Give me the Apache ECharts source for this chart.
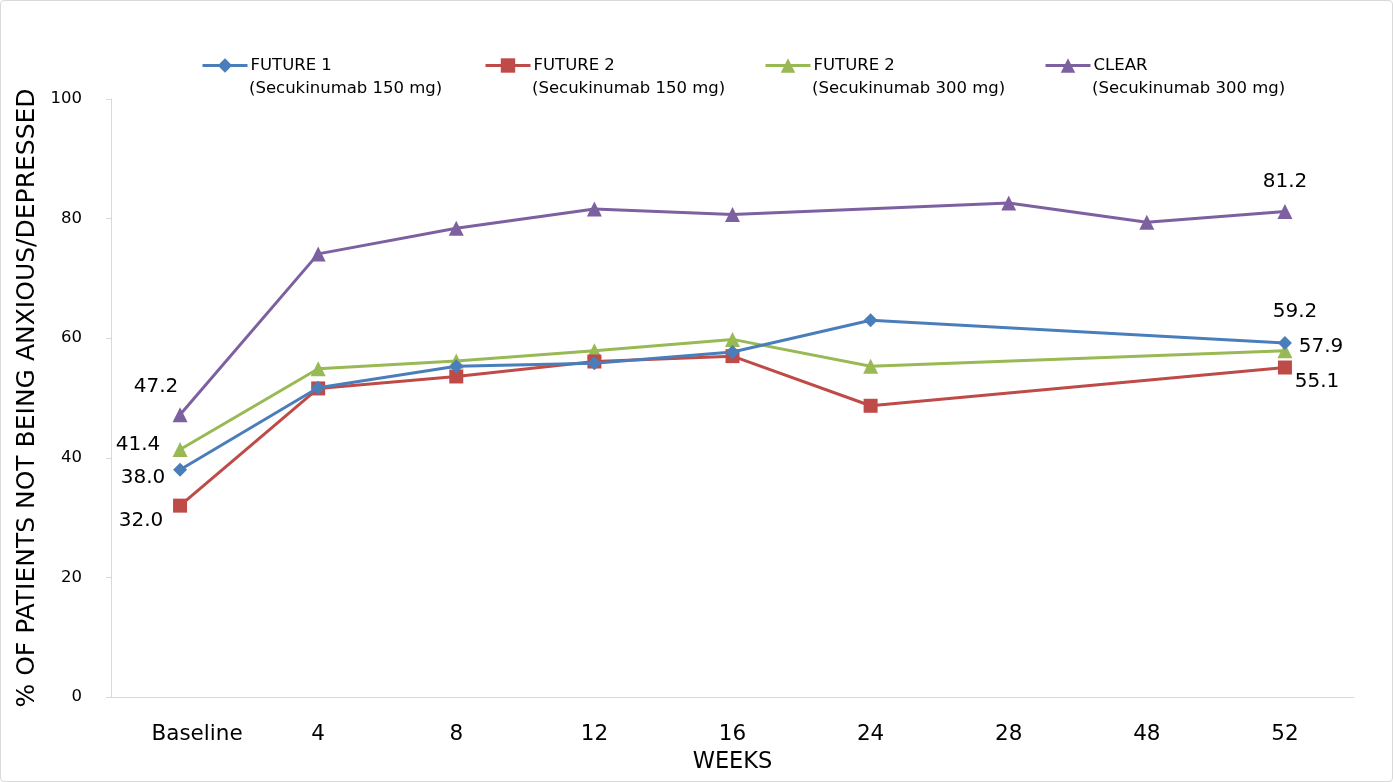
<!DOCTYPE html>
<html><head><meta charset="utf-8">
<script src="https://cdn.jsdelivr.net/npm/echarts@6/dist/echarts.min.js"></script>
<style>
html,body{margin:0;padding:0;background:#fff;}
#c{position:absolute;left:0;top:0;width:1391px;height:780px;border:1px solid #d9d9d9;border-radius:4px;}
</style></head><body>
<div id="c"></div>
<script>
const categories = ['Baseline','4','8','12','16','24','28','48','52'];
const future1_150 = [38.0, 51.7, 55.3, 55.8, 57.7, 63.0, null, null, 59.2];
const future2_150 = [32.0, 51.6, 53.6, 56.1, 57.0, 48.7, null, null, 55.1];
const future2_300 = [41.4, 54.9, 56.2, 57.9, 59.8, 55.3, null, null, 57.9];
const clear_300   = [47.2, 74.1, 78.4, 81.6, 80.7, null, 82.6, 79.4, 81.2];
const legendTitles = ['FUTURE 1','FUTURE 2','FUTURE 2','CLEAR'];
const legendSubtitles = ['(Secukinumab 150 mg)','(Secukinumab 150 mg)','(Secukinumab 300 mg)','(Secukinumab 300 mg)'];
const yTicks = [0,20,40,60,80,100];

const FONT = 'DejaVu Sans';
const colors = ['#4A7EBB','#BE4B48','#98B954','#7D60A0'];
const symbols = ['diamond','rect','triangle','triangle'];
const symbolSizes = [14,14,15,15];
const seriesData = [future1_150, future2_150, future2_300, clear_300];
const ids = ['f1','f2a','f2b','clear'];
// label offsets for first and last points (style only)
const labelOffsets = [
  {0:[-37,8], 8:[10,-31]},
  {0:[-39,15], 8:[32,14]},
  {0:[-42,-5], 8:[36,-4]},
  {0:[-24,-28], 8:[0,-30]}
];

const series = seriesData.map((arr, s) => ({
  name: ids[s],
  type: 'line',
  data: arr.map((v, i) => {
    const o = {value: v};
    if (labelOffsets[s][i] && v != null) {
      o.label = {show: true, position: 'inside', offset: labelOffsets[s][i],
        formatter: p => p.value.toFixed(1), fontSize: 20, fontFamily: FONT, color: '#000'};
    }
    return o;
  }),
  connectNulls: true,
  symbol: symbols[s],
  symbolSize: symbolSizes[s],
  showAllSymbol: true,
  itemStyle: {color: colors[s]},
  lineStyle: {color: colors[s], width: 3},
  label: {show: false},
  z: 2 + (3 - s)
}));

const legendX = [200, 483, 763, 1043];
const legends = ids.map((id, k) => ({
  data: [id], left: legendX[k], top: 56, padding: 0,
  itemWidth: 45, itemHeight: 18, itemGap: 0,
  lineStyle: {width: 3},
  formatter: () => legendTitles[k],
  textStyle: {fontSize: 16.5, fontFamily: FONT, color: '#000', padding: [0,0,0,-2]},
  selectedMode: false
}));

const graphics = legendSubtitles.map((t, k) => ({
  type: 'text', left: legendX[k] + 48, top: 79,
  style: {text: t, font: '16.5px "' + FONT + '"', fill: '#000'}
}));

const chart = echarts.init(document.getElementById('c'));
chart.setOption({
  animation: false,
  legend: legends,
  graphic: graphics,
  grid: {left: 110, right: 38, top: 98, bottom: 84, outerBoundsMode: 'none', containLabel: false},
  xAxis: {
    type: 'category', data: categories, boundaryGap: true,
    name: 'WEEKS', nameLocation: 'middle', nameGap: 54,
    nameTextStyle: {fontSize: 22.5, fontFamily: FONT, color: '#000'},
    axisLine: {lineStyle: {color: '#d9d9d9', width: 1}},
    axisTick: {show: false},
    axisLabel: {interval: 0, hideOverlap: false, fontSize: 21.5, fontFamily: FONT, color: '#000', margin: 26,
      formatter: (v, i) => i === 0 ? '{b|' + v + '}' : v,
      rich: {b: {fontSize: 21.5, fontFamily: FONT, color: '#000', padding: [0,0,0,34]}}}
  },
  yAxis: {
    type: 'value', min: yTicks[0], max: yTicks[yTicks.length-1], interval: 20,
    name: '% OF PATIENTS NOT BEING ANXIOUS/DEPRESSED', nameLocation: 'middle', nameGap: 68,
    nameTextStyle: {fontSize: 25, fontFamily: FONT, color: '#000'},
    axisLine: {show: true, lineStyle: {color: '#d9d9d9', width: 1}},
    axisTick: {show: true, length: 5, lineStyle: {color: '#d9d9d9'}},
    splitLine: {show: false},
    axisLabel: {fontSize: 16.5, fontFamily: FONT, color: '#000', margin: 29}
  },
  series: series
});
</script>
</body></html>
